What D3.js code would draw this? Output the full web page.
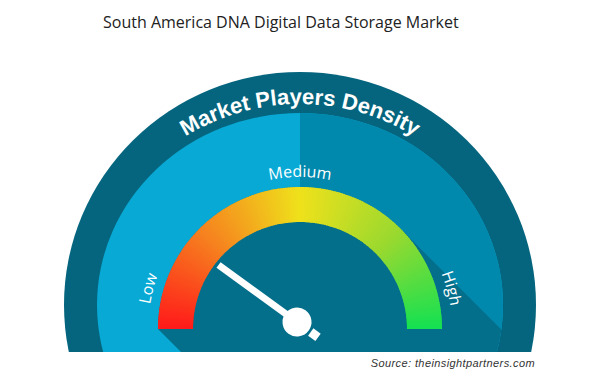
<!DOCTYPE html>
<html>
<head>
<meta charset="utf-8">
<script src="https://cdn.jsdelivr.net/npm/d3@7"></script>
<style>
body { margin: 0; background: #fff; }
svg { display: block; }
</style>
</head>
<body>
<div id="chart"></div>
<script>
// chart content
const title = "South America DNA Digital Data Storage Market";
const heading = "Market Players Density";
const levels = ["Low", "Medium", "High"];
const needleValue = 0.2;   // 0 = low, 1 = high
const gaugeColors = ["#ff1a1a", "#f6821f", "#efe11b", "#9ad92f", "#14e152"];
const source = "Source: theinsightpartners.com";

const width = 600, height = 380;
const cut = 352;                 // everything below is white
const cx = 300, cy = 329;        // gauge centre
const rOuter = 142, rInner = 107;
const ring = {cy: 305, rx: 236, ry: 233};
const face = {cy: 305, rx: 203, ry: 192};
const hub = {x: 297, y: 322, r: 14.5};

const svg = d3.select("#chart").append("svg")
    .attr("width", width)
    .attr("height", height);

const defs = svg.append("defs");
defs.append("clipPath").attr("id", "cut")
  .append("rect").attr("width", width).attr("height", cut);
defs.append("clipPath").attr("id", "face")
  .append("ellipse").attr("cx", cx).attr("cy", face.cy).attr("rx", face.rx).attr("ry", face.ry);

const g = svg.append("g").attr("clip-path", "url(#cut)");

// outer dark ring
g.append("ellipse")
    .attr("cx", cx).attr("cy", ring.cy)
    .attr("rx", ring.rx).attr("ry", ring.ry)
    .attr("fill", "#05657e");

// inner face: light left half, darker right half
const faceG = g.append("g").attr("clip-path", "url(#face)");
faceG.append("rect")
    .attr("x", 0).attr("y", 0).attr("width", width).attr("height", cut)
    .attr("fill", "#08a9d5");
faceG.append("rect")
    .attr("x", cx).attr("y", 0).attr("width", width - cx).attr("height", cut)
    .attr("fill", "#0189ad");

// long shadow of the gauge, cast down-right at 45 degrees
const L = 400;
const px = cx + rOuter * Math.SQRT1_2, py = cy - rOuter * Math.SQRT1_2;
faceG.append("path")
    .attr("d", `M${cx - rOuter},${cy} A${rOuter},${rOuter} 0 0 1 ${px},${py}` +
               ` L${px + L},${py + L} L${cx - rOuter + L},${cy + L} Z`)
    .attr("fill", "#046f8b");

// gauge arc with a sweeping colour gradient
const angle = d3.scaleLinear().domain([0, 1]).range([-Math.PI / 2, Math.PI / 2]);
const color = d3.scaleLinear()
    .domain(gaugeColors.map((c, i) => i / (gaugeColors.length - 1)))
    .range(gaugeColors);
const steps = 180;
const arc = d3.arc().innerRadius(rInner).outerRadius(rOuter);

const gauge = g.append("g").attr("transform", `translate(${cx},${cy})`);
gauge.selectAll("path")
  .data(d3.range(steps))
  .join("path")
    .attr("d", i => arc({
        startAngle: angle(i / steps),
        endAngle: angle(Math.min(1, (i + 1.6) / steps))
    }))
    .attr("fill", i => color((i + 0.5) / steps));

// level labels on an arc above the gauge
const labelAngle = d3.scalePoint().domain(levels).range([-75, 75]);
const rLab = 152;
defs.append("path").attr("id", "labelArc")
    .attr("d", `M${cx - rLab},${cy} A${rLab},${rLab} 0 0 1 ${cx + rLab},${cy}`);

g.append("g").selectAll("text")
  .data(levels)
  .join("text")
    .attr("fill", "#fff")
    .style("font-family", "'Open Sans', sans-serif")
    .style("font-size", "16px")
  .append("textPath")
    .attr("href", "#labelArc")
    .attr("startOffset", d => ((labelAngle(d) + 90) / 180 * 100) + "%")
    .attr("text-anchor", "middle")
    .text(d => d);

// curved heading in the ring
const hr = {rx: 210, ry: 201};
defs.append("path").attr("id", "headArc")
    .attr("d", `M${cx - hr.rx},${ring.cy} A${hr.rx},${hr.ry} 0 0 1 ${cx + hr.rx},${ring.cy}`);
g.append("text")
    .attr("fill", "#fff")
    .style("font-family", "'Liberation Sans', Arial, sans-serif")
    .style("font-weight", "bold")
    .style("font-size", "22px")
  .append("textPath")
    .attr("href", "#headArc")
    .attr("startOffset", "50%")
    .attr("text-anchor", "middle")
    .text(heading);

// needle
const deg = angle(needleValue) * 180 / Math.PI;
const needle = g.append("g")
    .attr("transform", `translate(${hub.x},${hub.y}) rotate(${deg})`)
    .attr("fill", "#fff");
needle.append("rect")
    .attr("x", -3.5).attr("y", -97).attr("width", 7).attr("height", 97);
needle.append("rect")
    .attr("x", -4.5).attr("y", 17).attr("width", 9).attr("height", 9);
needle.append("circle")
    .attr("r", hub.r);

// title and source
svg.append("text")
    .attr("x", 103).attr("y", 28)
    .attr("fill", "#222")
    .style("font-family", "'Open Sans', sans-serif")
    .style("font-size", "16px")
    .text(title);

svg.append("text")
    .attr("x", 535).attr("y", 367)
    .attr("text-anchor", "end")
    .attr("fill", "#333")
    .style("font-family", "'Liberation Sans', Arial, sans-serif")
    .style("font-style", "italic")
    .style("font-size", "11px")
    .style("letter-spacing", "0.4px")
    .text(source);
</script>
</body>
</html>
